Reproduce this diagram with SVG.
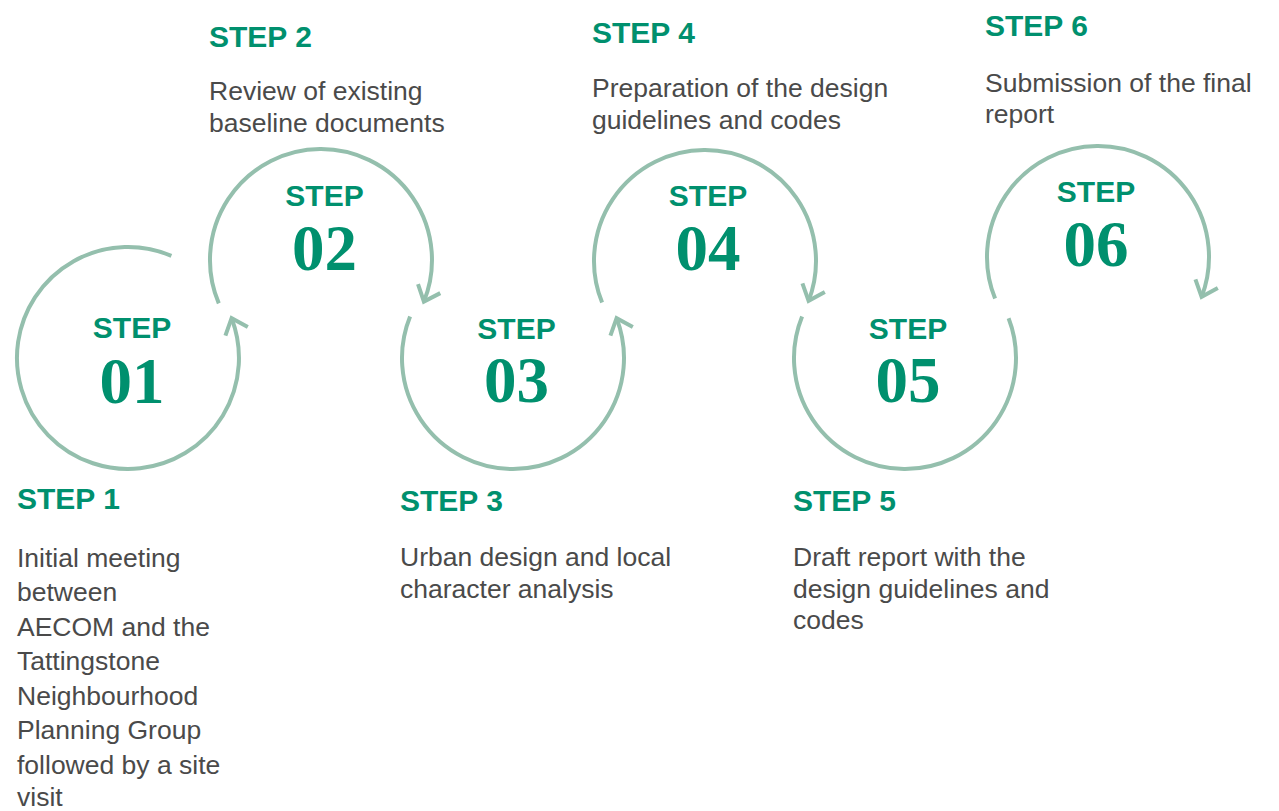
<svg xmlns="http://www.w3.org/2000/svg" width="1279" height="811" viewBox="0 0 1279 811">
  <style>
    .ring { fill: none; stroke: #94bfad; stroke-width: 4; }
    .head { font-family: "Liberation Sans", Arial, sans-serif; font-weight: bold; font-size: 30px; fill: #00906e; }
    .body { font-family: "Liberation Sans", Arial, sans-serif; font-size: 26.5px; fill: #4a4a4a; }
    .cstep { font-family: "Liberation Sans", Arial, sans-serif; font-weight: bold; font-size: 30px; fill: #00906e; text-anchor: middle; }
    .cnum { font-family: "Liberation Serif", "Times New Roman", serif; font-weight: bold; font-size: 65px; fill: #00906e; text-anchor: middle; }
  </style>
  <defs>
    <marker id="chev" markerUnits="userSpaceOnUse" orient="auto" markerWidth="40" markerHeight="40" refX="0" refY="0" viewBox="-20 -20 40 40" overflow="visible">
      <path d="M-14,-12 L0,0 L-14,12" fill="none" stroke="#94bfad" stroke-width="4"/>
    </marker>
  </defs>
  <rect width="1279" height="811" fill="#ffffff"/>

  <g id="connectors">
    <path class="ring" d="M171.4,255.8 A111,111 0 1 0 231.6,318.2" marker-end="url(#chev)"/>
    <path class="ring" d="M218.8,303.4 A111,111 0 1 1 423.9,301.6" marker-end="url(#chev)"/>
    <path class="ring" d="M410.1,316.4 A111,111 0 1 0 616.6,318.2" marker-end="url(#chev)"/>
    <path class="ring" d="M602.1,302.6 A111,111 0 1 1 808.6,300.8" marker-end="url(#chev)"/>
    <path class="ring" d="M802.1,316.4 A111,111 0 1 0 1008.6,318.2"/>
    <path class="ring" d="M995.1,298.6 A111,111 0 1 1 1201.6,296.8" marker-end="url(#chev)"/>
  </g>

  <g id="step1">
    <text class="cstep" x="132" y="338">STEP</text>
    <text class="cnum" x="132" y="403">01</text>
    <text class="head" x="17" y="509">STEP 1</text>
    <text class="body" x="17" y="566.5">Initial meeting</text>
    <text class="body" x="17" y="601">between</text>
    <text class="body" x="17" y="635.5">AECOM and the</text>
    <text class="body" x="17" y="670">Tattingstone</text>
    <text class="body" x="17" y="704.5">Neighbourhood</text>
    <text class="body" x="17" y="739">Planning Group</text>
    <text class="body" x="17" y="773.5">followed by a site</text>
    <text class="body" x="17" y="806">visit</text>
  </g>

  <g id="step2">
    <text class="cstep" x="324.5" y="206">STEP</text>
    <text class="cnum" x="324.5" y="270">02</text>
    <text class="head" x="209" y="47">STEP 2</text>
    <text class="body" x="209" y="100">Review of existing</text>
    <text class="body" x="209" y="132">baseline documents</text>
  </g>

  <g id="step3">
    <text class="cstep" x="516.5" y="339">STEP</text>
    <text class="cnum" x="516.5" y="402">03</text>
    <text class="head" x="400" y="511">STEP 3</text>
    <text class="body" x="400" y="566">Urban design and local</text>
    <text class="body" x="400" y="598">character analysis</text>
  </g>

  <g id="step4">
    <text class="cstep" x="708" y="206">STEP</text>
    <text class="cnum" x="708" y="270">04</text>
    <text class="head" x="592" y="43">STEP 4</text>
    <text class="body" x="592" y="97">Preparation of the design</text>
    <text class="body" x="592" y="129">guidelines and codes</text>
  </g>

  <g id="step5">
    <text class="cstep" x="908" y="339">STEP</text>
    <text class="cnum" x="908" y="402">05</text>
    <text class="head" x="793" y="511">STEP 5</text>
    <text class="body" x="793" y="566">Draft report with the</text>
    <text class="body" x="793" y="597.5">design guidelines and</text>
    <text class="body" x="793" y="629">codes</text>
  </g>

  <g id="step6">
    <text class="cstep" x="1096" y="202">STEP</text>
    <text class="cnum" x="1096" y="266">06</text>
    <text class="head" x="985" y="36">STEP 6</text>
    <text class="body" x="985" y="92">Submission of the final</text>
    <text class="body" x="985" y="123">report</text>
  </g>
</svg>
